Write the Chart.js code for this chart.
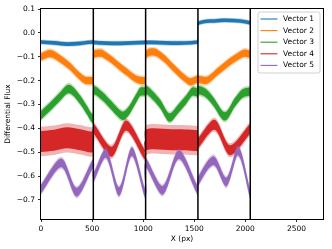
<!DOCTYPE html>
<html>
<head>
<meta charset="utf-8">
<script src="https://cdn.jsdelivr.net/npm/chart.js@4.4.0/dist/chart.umd.min.js"></script>
<style>
  html, body { margin: 0; padding: 0; background: #fff; }
  #wrap { width: 332px; height: 249px; }
</style>
</head>
<body>
<div id="wrap"><canvas id="chart" width="332" height="249"></canvas></div>
<script>
// series names
const seriesLabels = ['Vector 1', 'Vector 2', 'Vector 3', 'Vector 4', 'Vector 5'];

// values (x in px, y = differential flux)
const vec1X = [0, 128, 256, 384, 511, 512, 768, 1023, 1024, 1280, 1535, 1536, 1700, 1800, 1950, 2047];
const vec1Y = [-0.038, -0.042, -0.047, -0.044, -0.038, -0.040, -0.044, -0.040, -0.040, -0.043, -0.038, 0.040, 0.050, 0.053, 0.050, 0.042];

const vec2X = [0, 90, 192, 285, 383, 450, 511, 512, 580, 650, 712, 780, 843, 900, 960, 1023, 1024, 1100, 1200, 1300, 1400, 1465, 1535, 1536, 1610, 1730, 1830, 1930, 2000, 2047];
const vec2Y = [-0.100, -0.087, -0.110, -0.141, -0.183, -0.200, -0.200, -0.090, -0.085, -0.100, -0.120, -0.145, -0.165, -0.185, -0.198, -0.200, -0.092, -0.080, -0.105, -0.148, -0.188, -0.205, -0.195, -0.195, -0.200, -0.162, -0.127, -0.098, -0.085, -0.090];

const vec3X = [0, 90, 186, 270, 383, 447, 511, 512, 600, 680, 745, 800, 870, 930, 980, 1023, 1024, 1100, 1170, 1260, 1340, 1420, 1490, 1535, 1536, 1620, 1690, 1800, 1900, 1970, 2047];
const vec3Y = [-0.345, -0.309, -0.267, -0.235, -0.280, -0.322, -0.360, -0.240, -0.265, -0.300, -0.330, -0.348, -0.320, -0.275, -0.245, -0.245, -0.240, -0.265, -0.300, -0.355, -0.320, -0.280, -0.245, -0.250, -0.240, -0.255, -0.290, -0.350, -0.290, -0.255, -0.245];

const vec4X = [0, 128, 256, 384, 511, 512, 690, 835, 1023, 1024, 1280, 1535, 1536, 1700, 1850, 2047];
const vec4Y = [-0.455, -0.450, -0.440, -0.448, -0.455, -0.402, -0.498, -0.388, -0.512, -0.450, -0.448, -0.452, -0.462, -0.385, -0.492, -0.402];

const vec5X = [0, 200, 350, 511, 512, 635, 765, 890, 1023, 1024, 1190, 1350, 1535, 1536, 1688, 1815, 1930, 2047];
const vec5Y = [-0.655, -0.545, -0.668, -0.548, -0.605, -0.505, -0.665, -0.498, -0.675, -0.545, -0.660, -0.510, -0.660, -0.625, -0.535, -0.625, -0.495, -0.675];

// detector segment edges (vertical black lines)
const boundaries = [512, 1024, 1536, 2048];

// axis ticks
const xTicks = [0, 500, 1000, 1500, 2000, 2500];
const yTicks = [0.1, 0.0, -0.1, -0.2, -0.3, -0.4, -0.5, -0.6, -0.7];

const colors = ['#1f77b4', '#ff7f0e', '#2ca02c', '#d62728', '#9467bd'];
// half height of each noisy band, in px (Vector 4 changes per segment)
const bandHalf = [1.8, 3.6, 4.2, 0, 4.4];
const vec4Half = [10.5, 5, 10.5, 5];

const FONT = 'DejaVu Sans';
Chart.defaults.font.family = FONT;
Chart.defaults.font.size = 7.5;
Chart.defaults.color = '#000';

function toPoints(xs, ys) {
    return xs.map((x, i) => ({ x: x, y: ys[i] }));
}

function halfAt(i, x) {
    if (i === 3) return vec4Half[Math.min(3, Math.floor(x / 512))];
    return bandHalf[i];
}

const allX = [vec1X, vec2X, vec3X, vec4X, vec5X];
const allY = [vec1Y, vec2Y, vec3Y, vec4Y, vec5Y];

const datasets = seriesLabels.map((name, i) => ({
    label: name,
    data: toPoints(allX[i], allY[i]),
    borderColor: colors[i],
    backgroundColor: colors[i],
    borderWidth: 1,
    pointRadius: 0,
    // 4, 5번은 봉우리가 좀 더 뾰족함
    cubicInterpolationMode: i >= 3 ? 'default' : 'monotone',
    tension: i >= 3 ? 0.3 : 0,
    fill: false,
    order: seriesLabels.length - i
}));

// 노이즈 띠: 선을 따라 위아래로 두께를 준다
const bandPlugin = {
    id: 'bandPlugin',
    beforeDatasetDraw(chart, args) {
        const { ctx, chartArea } = chart;
        const i = args.index;
        const pts = args.meta.data;
        const raw = chart.data.datasets[i].data;
        ctx.save();
        ctx.beginPath();
        ctx.rect(chartArea.left, chartArea.top, chartArea.right - chartArea.left, chartArea.bottom - chartArea.top);
        ctx.clip();
        ctx.fillStyle = colors[i];
        [[1.4, 0.35], [1, 1]].forEach(([k, alpha]) => {
            const h = pts.map((p, j) => k * halfAt(i, raw[j].x));
            ctx.globalAlpha = alpha;
            ctx.beginPath();
            ctx.moveTo(pts[0].x, pts[0].y - h[0]);
            for (let j = 1; j < pts.length; j++) {
                const a = pts[j - 1], b = pts[j];
                ctx.bezierCurveTo(a.cp2x, a.cp2y - h[j - 1], b.cp1x, b.cp1y - h[j], b.x, b.y - h[j]);
            }
            const n = pts.length - 1;
            ctx.lineTo(pts[n].x, pts[n].y + h[n]);
            for (let j = n; j > 0; j--) {
                const a = pts[j - 1], b = pts[j];
                ctx.bezierCurveTo(b.cp1x, b.cp1y + h[j], a.cp2x, a.cp2y + h[j - 1], a.x, a.y + h[j - 1]);
            }
            ctx.closePath();
            ctx.fill();
        });
        ctx.restore();
    }
};

// 세그먼트 경계선 + 네 면 테두리
const framePlugin = {
    id: 'framePlugin',
    afterDatasetsDraw(chart) {
        const { ctx, chartArea, scales } = chart;
        ctx.save();
        ctx.strokeStyle = '#000';
        ctx.lineWidth = 1.5;
        boundaries.forEach(b => {
            const px = scales.x.getPixelForValue(b);
            ctx.beginPath();
            ctx.moveTo(px, chartArea.top);
            ctx.lineTo(px, chartArea.bottom);
            ctx.stroke();
        });
        ctx.lineWidth = 1;
        ctx.strokeRect(Math.round(chartArea.left) - 0.5, Math.round(chartArea.top) - 0.5,
            Math.round(chartArea.right - chartArea.left) + 1, Math.round(chartArea.bottom - chartArea.top) + 1);
        ctx.restore();
    }
};

// matplotlib 스타일 범례 (그래프 안쪽 오른쪽 위)
const legendPlugin = {
    id: 'legendPlugin',
    afterDraw(chart) {
        const { ctx, chartArea } = chart;
        const w = 62, h = 61;
        const x0 = chartArea.right - 3.5 - w;
        const y0 = chartArea.top + 2.5;
        ctx.save();
        ctx.beginPath();
        ctx.roundRect(x0 + 0.5, y0 + 0.5, w, h, 2);
        ctx.fillStyle = 'rgba(255,255,255,0.8)';
        ctx.fill();
        ctx.strokeStyle = '#d0d0d0';
        ctx.lineWidth = 1;
        ctx.stroke();
        ctx.font = '7.5px "' + FONT + '"';
        ctx.textBaseline = 'middle';
        ctx.textAlign = 'left';
        chart.data.datasets.forEach((ds, i) => {
            const yy = y0 + 7.5 + i * 11.6;
            ctx.strokeStyle = ds.borderColor;
            ctx.lineWidth = 1.1;
            ctx.beginPath();
            ctx.moveTo(x0 + 3, yy);
            ctx.lineTo(x0 + 20, yy);
            ctx.stroke();
            ctx.fillStyle = '#000';
            ctx.fillText(ds.label, x0 + 25.5, yy);
        });
        ctx.restore();
    }
};

const chart = new Chart(document.getElementById('chart'), {
    type: 'line',
    data: { datasets: datasets },
    options: {
        responsive: false,
        animation: false,
        devicePixelRatio: 1,
        layout: { padding: { top: 9, right: 9, left: 0, bottom: 0 } },
        plugins: {
            legend: { display: false },
            tooltip: { enabled: false }
        },
        scales: {
            x: {
                type: 'linear',
                min: 0,
                max: 2760,
                afterBuildTicks: s => { s.ticks = xTicks.map(v => ({ value: v })); },
                afterFit: s => { s.height = 30; },
                ticks: { padding: 3, maxRotation: 0, autoSkip: false, callback: v => String(v) },
                grid: { drawOnChartArea: false, drawTicks: true, tickLength: 3, color: '#000', lineWidth: 0.8 },
                border: { display: false },
                title: { display: true, text: 'X (px)', padding: { top: 0, bottom: 5.5 } }
            },
            y: {
                type: 'linear',
                min: -0.78,
                max: 0.1,
                afterBuildTicks: s => { s.ticks = yTicks.map(v => ({ value: v })); },
                afterFit: s => { s.width = 41; },
                ticks: { padding: 3, autoSkip: false, callback: v => v.toFixed(1).replace('-', '\u2212') },
                grid: { drawOnChartArea: false, drawTicks: true, tickLength: 3, color: '#000', lineWidth: 0.8 },
                border: { display: false },
                title: { display: true, text: 'Differential Flux', padding: { top: 4, bottom: 0 } }
            }
        }
    },
    plugins: [bandPlugin, framePlugin, legendPlugin]
});
</script>
</body>
</html>
